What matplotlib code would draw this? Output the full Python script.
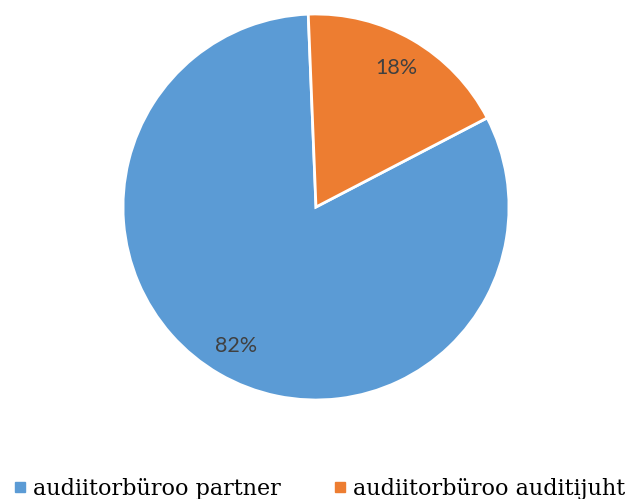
import matplotlib.pyplot as plt
from matplotlib.lines import Line2D

labels = ["audiitorbüroo partner", "audiitorbüroo auditijuht"]
shares = [82, 18]
colors = ["#5B9BD5", "#ED7D31"]

fig = plt.figure(figsize=(6.35, 4.99), dpi=100)
ax = fig.add_axes([123 / 635, 99 / 499, 386 / 635, 386 / 499])

wedges, texts, autotexts = ax.pie(
    shares,
    colors=colors,
    startangle=27.5,
    counterclock=False,
    radius=1,
    autopct="%1.0f%%",
    pctdistance=0.83,
    wedgeprops={"edgecolor": "white", "linewidth": 2},
    textprops={"color": "#404040", "fontsize": 15.5, "family": "Lato"},
)
ax.set_xlim(-1, 1)
ax.set_ylim(-1, 1)
ax.set_aspect("equal")

handles = [
    Line2D([], [], marker="s", linestyle="none", markersize=6.5,
           markerfacecolor=c, markeredgecolor=c)
    for c in colors
]
fig.legend(
    handles, labels,
    loc="center left",
    bbox_to_anchor=(14 / 635, 10 / 499),
    ncol=2,
    frameon=False,
    borderpad=0,
    borderaxespad=0,
    handlelength=0.5,
    handletextpad=0.36,
    columnspacing=2.4,
    prop={"family": "DejaVu Serif", "size": 16},
)

fig.savefig("out.png", dpi=100)
